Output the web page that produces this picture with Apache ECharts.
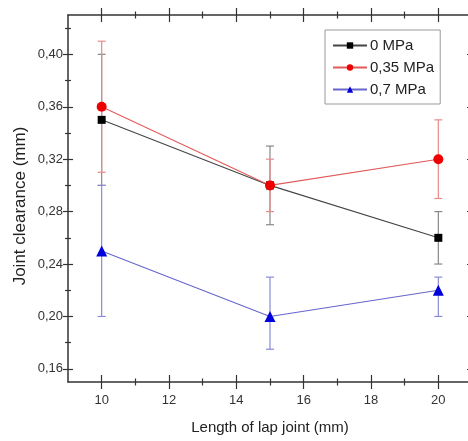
<!DOCTYPE html>
<html>
<head>
<meta charset="utf-8">
<script src="https://cdn.jsdelivr.net/npm/echarts@6/dist/echarts.min.js"></script>
<style>
  html, body { margin: 0; padding: 0; background: #fff; }
  #chart { width: 468px; height: 441px; }
</style>
</head>
<body>
<div id="chart"></div>
<script>
// lap joint length (mm)
const lengths = [10, 15, 20]

// joint clearance (mm) with error-bar bounds
const mpa0 = [0.35, 0.30, 0.26]
const mpa0Low = [0.30, 0.27, 0.24]
const mpa0High = [0.40, 0.33, 0.28]

const mpa035 = [0.36, 0.30, 0.32]
const mpa035Low = [0.31, 0.28, 0.29]
const mpa035High = [0.41, 0.32, 0.35]

const mpa07 = [0.25, 0.20, 0.22]
const mpa07Low = [0.20, 0.175, 0.20]
const mpa07High = [0.30, 0.23, 0.23]

const seriesNames = ['0 MPa', '0,35 MPa', '0,7 MPa']

// ticks
const xMajor = [10, 12, 14, 16, 18, 20]
const xMinor = [11, 13, 15, 17, 19]
const yMajor = [0.16, 0.20, 0.24, 0.28, 0.32, 0.36, 0.40]
const yMinor = [0.18, 0.22, 0.26, 0.30, 0.34, 0.38, 0.42]

const X_MIN = 9, X_MAX = 21
const Y_MIN = 0.15, Y_MAX = 0.43

const FONT = '"Liberation Sans", Arial, sans-serif'
const AXIS_COLOR = '#333'

const chart = echarts.init(document.getElementById('chart'))

const fmtY = v => v.toFixed(2).replace('.', ',')

// axis that only draws crossing ticks (shifted inward by half the tick length)
function tickAxis(kind, pos, values, half) {
  return {
    type: 'value',
    position: pos,
    min: kind === 'x' ? X_MIN : Y_MIN,
    max: kind === 'x' ? X_MAX : Y_MAX,
    offset: -half,
    axisLine: { show: false },
    splitLine: { show: false },
    axisLabel: { show: false },
    axisTick: {
      show: true,
      customValues: values,
      length: half * 2,
      lineStyle: { color: AXIS_COLOR, width: 1.2 }
    }
  }
}

function frameAxis(kind, pos) {
  return {
    type: 'value',
    position: pos,
    min: kind === 'x' ? X_MIN : Y_MIN,
    max: kind === 'x' ? X_MAX : Y_MAX,
    axisLine: { show: true, onZero: false, lineStyle: { color: AXIS_COLOR, width: 1.5 } },
    axisTick: { show: false },
    axisLabel: { show: false },
    splitLine: { show: false }
  }
}

const xMain = frameAxis('x', 'bottom')
xMain.name = 'Length of lap joint (mm)'
xMain.nameLocation = 'middle'
xMain.nameGap = 38
xMain.nameTextStyle = { fontFamily: FONT, fontSize: 15, color: '#222' }
xMain.axisLabel = {
  show: true, customValues: xMajor, margin: 12,
  fontFamily: FONT, fontSize: 13, color: '#333'
}

const yMain = frameAxis('y', 'left')
yMain.axisLabel = {
  show: true, customValues: yMajor, margin: 5,
  fontFamily: FONT, fontSize: 13, color: '#333',
  formatter: fmtY
}

const xAxes = [
  xMain,
  frameAxis('x', 'top'),
  tickAxis('x', 'bottom', xMajor, 7),
  tickAxis('x', 'bottom', xMinor, 3.5),
  tickAxis('x', 'top', xMajor, 7),
  tickAxis('x', 'top', xMinor, 3.5)
]
const yAxes = [
  yMain,
  frameAxis('y', 'right'),
  tickAxis('y', 'left', yMajor, 5),
  tickAxis('y', 'left', yMinor, 3),
  tickAxis('y', 'right', yMajor, 5),
  tickAxis('y', 'right', yMinor, 3)
]

function errorBars(low, high, color) {
  return {
    type: 'custom',
    xAxisIndex: 0,
    yAxisIndex: 0,
    silent: true,
    z: 1,
    data: lengths.map((x, i) => [x, low[i], high[i]]),
    encode: { x: 0, y: [1, 2] },
    renderItem(params, api) {
      const lo = api.coord([api.value(0), api.value(1)])
      const hi = api.coord([api.value(0), api.value(2)])
      const cap = 4
      const style = { stroke: color, lineWidth: 1.2 }
      return {
        type: 'group',
        children: [
          { type: 'line', shape: { x1: lo[0], y1: lo[1], x2: hi[0], y2: hi[1] }, style },
          { type: 'line', shape: { x1: lo[0] - cap, y1: lo[1], x2: lo[0] + cap, y2: lo[1] }, style },
          { type: 'line', shape: { x1: hi[0] - cap, y1: hi[1], x2: hi[0] + cap, y2: hi[1] }, style }
        ]
      }
    }
  }
}

function lineSeries(name, values, symbol, size, color, lineColor) {
  return {
    name,
    type: 'line',
    xAxisIndex: 0,
    yAxisIndex: 0,
    z: 3,
    data: lengths.map((x, i) => [x, values[i]]),
    symbol,
    symbolSize: size,
    showAllSymbol: true,
    color,
    itemStyle: { color },
    lineStyle: { color: lineColor, width: 1.1 }
  }
}

const option = {
  animation: false,
  backgroundColor: '#fff',
  grid: {
    left: 68,
    top: 15,
    width: 404,
    height: 367,
    containLabel: false,
    outerBoundsMode: 'none'
  },
  xAxis: xAxes,
  yAxis: yAxes,
  legend: {
    data: seriesNames,
    orient: 'vertical',
    left: 325,
    top: 30,
    backgroundColor: '#fff',
    borderColor: '#999',
    borderWidth: 1,
    padding: [7, 6, 6, 7],
    itemGap: 5,
    itemWidth: 34,
    itemHeight: 8,
    textStyle: { fontFamily: FONT, fontSize: 15, color: '#222', padding: [0, 0, 0, -2], lineHeight: 17 }
  },
  graphic: [{
    type: 'text',
    x: 20,
    y: 206,
    rotation: Math.PI / 2,
    style: {
      text: 'Joint clearance (mm)',
      font: '17px ' + FONT,
      fill: '#222',
      align: 'center',
      verticalAlign: 'middle'
    }
  }],
  series: [
    errorBars(mpa0Low, mpa0High, '#888'),
    errorBars(mpa035Low, mpa035High, '#e88a8a'),
    errorBars(mpa07Low, mpa07High, '#8a8ad8'),
    lineSeries(seriesNames[0], mpa0, 'rect', 8, '#000', '#444'),
    lineSeries(seriesNames[1], mpa035, 'circle', 10, '#ee0000', '#e25a5a'),
    lineSeries(seriesNames[2], mpa07, 'triangle', 11, '#0000dd', '#6666cc')
  ]
}

chart.setOption(option)
</script>
</body>
</html>
